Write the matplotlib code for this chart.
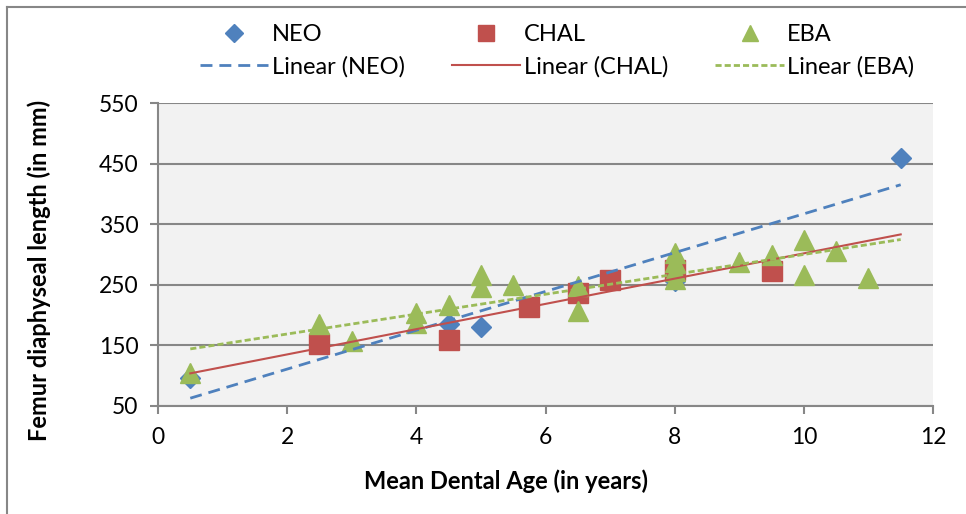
import numpy as np
import matplotlib
matplotlib.use("Agg")
import matplotlib.pyplot as plt
from matplotlib.lines import Line2D

# data
neo_x = [0.5, 4.5, 5, 8, 11.5]
neo_y = [97, 185, 181, 256, 460]

chal_x = [2.5, 4.5, 5.75, 6.5, 7, 8, 9.5]
chal_y = [153, 159, 213, 236, 258, 275, 272]

eba_x = [0.5, 2.5, 3, 4, 4, 4.5, 5, 5, 5.5, 6.5, 6.5, 8, 8, 8, 8, 9, 9.5, 10, 10, 10.5, 11]
eba_y = [105, 185, 157, 204, 187, 217, 266, 246, 249, 248, 206, 303, 288, 272, 260,
         288, 299, 324, 266, 306, 261]

x_ticks = [0, 2, 4, 6, 8, 10, 12]
y_ticks = [50, 150, 250, 350, 450, 550]
trend_range = [0.5, 11.5]

blue = "#4F81BD"
red = "#C0504D"
green = "#9BBB59"

plt.rcParams['font.family'] = ['Lato', 'DejaVu Sans']
fs = 17

fig = plt.figure(figsize=(9.66, 5.14), dpi=100)
ax = fig.add_axes([158/966, 1-406/514, (933-158)/966, (406-103)/514])
ax.set_facecolor("#F2F2F2")

# scatter series (NEO first, EBA on top)
ax.plot(neo_x, neo_y, 'D', color=blue, markersize=10, zorder=3)
ax.plot(chal_x, chal_y, 's', color=red, markersize=14, zorder=4)
ax.plot(eba_x, eba_y, '^', color=green, markersize=14.5, zorder=5)

# linear trend lines
xs = np.array(trend_range)
p = np.polyfit(neo_x, neo_y, 1)
ax.plot(xs, np.polyval(p, xs), color=blue, lw=2, dashes=(4.3, 2.5), zorder=6)
p = np.polyfit(chal_x, chal_y, 1)
ax.plot(xs, np.polyval(p, xs), color=red, lw=1.5, zorder=6)
p = np.polyfit(eba_x, eba_y, 1)
ax.plot(xs, np.polyval(p, xs), color=green, lw=2, dashes=(2.2, 1.1), zorder=6)

ax.set_xlim(0, 12)
ax.set_ylim(50, 550)
ax.set_xticks(x_ticks)
ax.set_yticks(y_ticks)
ax.grid(axis='y', color='#878787', lw=1.5, zorder=1)
ax.set_axisbelow(True)
for s in ['top', 'right']:
    ax.spines[s].set_visible(False)
for s in ['left', 'bottom']:
    ax.spines[s].set_color('#878787')
    ax.spines[s].set_linewidth(1.5)
ax.tick_params(axis='both', colors='#878787', width=1.5, length=6, labelsize=16.5,
               labelcolor='black')
ax.tick_params(axis='x', pad=9)
ax.tick_params(axis='y', pad=8)

ax.set_xlabel("Mean Dental Age (in years)", fontsize=fs, fontweight='bold')
ax.set_ylabel("Femur diaphyseal length (in mm)", fontsize=fs, fontweight='bold')
ax.xaxis.set_label_coords((506-158)/775, -(469-406)/303)
ax.yaxis.set_label_coords(-(158-51)/775, (406-270)/303)

# legend: markers on row 1, trend lines on row 2
handles = [
    Line2D([], [], ls='none', marker='D', color=blue, markersize=9),
    Line2D([], [], color=blue, lw=2, dashes=(4.3, 2.5)),
    Line2D([], [], ls='none', marker='s', color=red, markersize=12),
    Line2D([], [], color=red, lw=1.5),
    Line2D([], [], ls='none', marker='^', color=green, markersize=12),
    Line2D([], [], color=green, lw=2, dashes=(2.2, 1.1)),
]
labels = ["NEO", "Linear (NEO)", "CHAL", "Linear (CHAL)", "EBA", "Linear (EBA)"]
fig.legend(handles, labels, ncol=3, loc='center', bbox_to_anchor=(557/966, 1-51/514),
           frameon=False, fontsize=fs, handlelength=2.9, handletextpad=0.15,
           columnspacing=2.0, labelspacing=0.45)

# chart border (only top/left visible in the crop)
fig.add_artist(Line2D([7/966, 1], [1-7/514, 1-7/514], color='#878787', lw=1.5))
fig.add_artist(Line2D([7/966, 7/966], [0, 1-7/514], color='#878787', lw=1.5))

fig.savefig("out.png", dpi=100)
